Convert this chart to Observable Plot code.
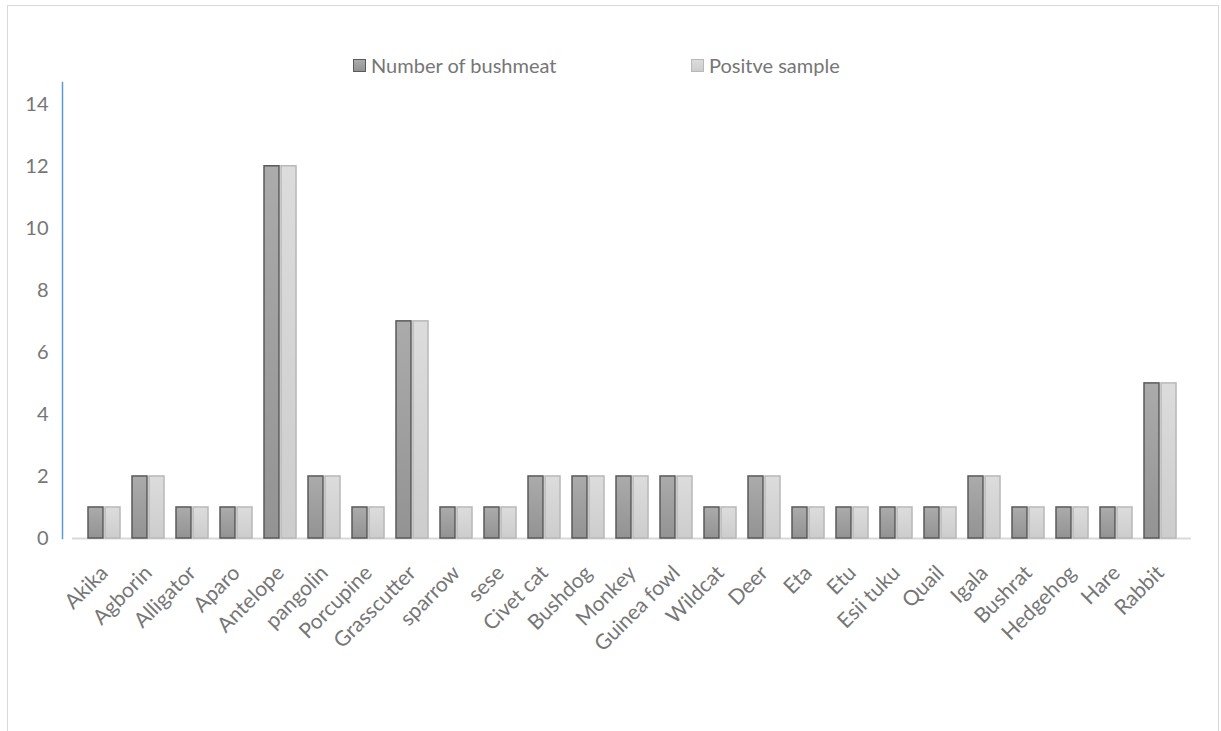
<!DOCTYPE html>
<html><head><meta charset="utf-8">
<script src="https://cdn.jsdelivr.net/npm/d3@7"></script>
<script src="https://cdn.jsdelivr.net/npm/@observablehq/plot@0.6"></script>
<style>
body{margin:0;background:#fff;overflow:hidden;font-family:Lato,"Open Sans",sans-serif}
#wrap{position:relative;width:1221px;height:731px;overflow:hidden}
#frame{position:absolute;left:7px;top:5px;width:1212px;height:800px;border:1.5px solid #d9d9d9;box-sizing:border-box;pointer-events:none}
#chart{position:absolute;left:0;top:0}
.leg{position:absolute;top:53px;font-size:20px;color:#767676;display:flex;align-items:center;white-space:nowrap}
.sw{width:13px;height:13px;margin-right:5px;box-sizing:border-box}
</style></head>
<body>
<div id="wrap">
  <div id="chart"></div>
  <div id="frame"></div>
  <div id="legend"></div>
</div>
<script>
const animals = ["Akika","Agborin","Alligator","Aparo","Antelope","pangolin","Porcupine","Grasscutter","sparrow","sese","Civet cat","Bushdog","Monkey","Guinea fowl","Wildcat","Deer","Eta","Etu","Esii tuku","Quail","Igala","Bushrat","Hedgehog","Hare","Rabbit"];
const bushmeat = [1,2,1,1,12,2,1,7,1,1,2,2,2,2,1,2,1,1,1,1,2,1,1,1,5];
const positive = [1,2,1,1,12,2,1,7,1,1,2,2,2,2,1,2,1,1,1,1,2,1,1,1,5];
const seriesNames = ["Number of bushmeat","Positve sample"];
const yTicks = [0,2,4,6,8,10,12,14];

const rows = animals.map((a,i)=>({animal:a, bushmeat:bushmeat[i], positive:positive[i]}));

const labelColor = "#767676";
const plot = Plot.plot({
  width: 1221,
  height: 731,
  marginLeft: 62,
  marginRight: 30,
  marginTop: 82,
  marginBottom: 193,
  style: {fontFamily: "Lato, 'Open Sans', sans-serif", background: "transparent"},
  x: {domain: animals, padding: 0, insetLeft: 10, label: null},
  y: {domain: [0, 14.7], label: null},
  marks: [
    Plot.frame({anchor: "left", stroke: "#5b9bd5", strokeWidth: 1.5}),
    Plot.ruleY([0], {insetLeft: 10, stroke: "#d9d9d9", strokeWidth: 2}),
    Plot.barY(rows, {x: "animal", y: "bushmeat", fill: "url(#gDark)", stroke: "#5a5a5a", strokeWidth: 1.5, insetLeft: 6, insetRight: 23}),
    Plot.barY(rows, {x: "animal", y: "positive", fill: "url(#gLight)", stroke: "#b8b8b8", strokeWidth: 1.5, insetLeft: 23, insetRight: 6}),
    Plot.axisY({ticks: yTicks, tickSize: 0, tickPadding: 14, fontSize: 20, fill: labelColor, label: null}),
    Plot.axisX({tickSize: 0, tickPadding: 31, tickRotate: -45, fontSize: 21, fill: labelColor, label: null})
  ]
});
const ns = "http://www.w3.org/2000/svg";
const defs = document.createElementNS(ns, "defs");
defs.innerHTML = `
<linearGradient id="gDark" x1="0" y1="0" x2="0" y2="1"><stop offset="0" stop-color="#ababab"/><stop offset="1" stop-color="#939393"/></linearGradient>
<linearGradient id="gLight" x1="0" y1="0" x2="0" y2="1"><stop offset="0" stop-color="#dcdcdc"/><stop offset="1" stop-color="#cdcdcd"/></linearGradient>`;
plot.insertBefore(defs, plot.firstChild);
document.getElementById("chart").appendChild(plot);

const legend = document.getElementById("legend");
const legendSpec = [
  {name: seriesNames[0], left: 353, fill: "linear-gradient(#ababab,#939393)", stroke: "#5a5a5a"},
  {name: seriesNames[1], left: 691, fill: "linear-gradient(#dcdcdc,#cdcdcd)", stroke: "#b8b8b8"}
];
legendSpec.forEach(s => {
  const d = document.createElement("div");
  d.className = "leg";
  d.style.left = s.left + "px";
  d.innerHTML = `<span class="sw" style="background:${s.fill};border:1.5px solid ${s.stroke}"></span><span>${s.name}</span>`;
  legend.appendChild(d);
});
</script>
</body></html>
